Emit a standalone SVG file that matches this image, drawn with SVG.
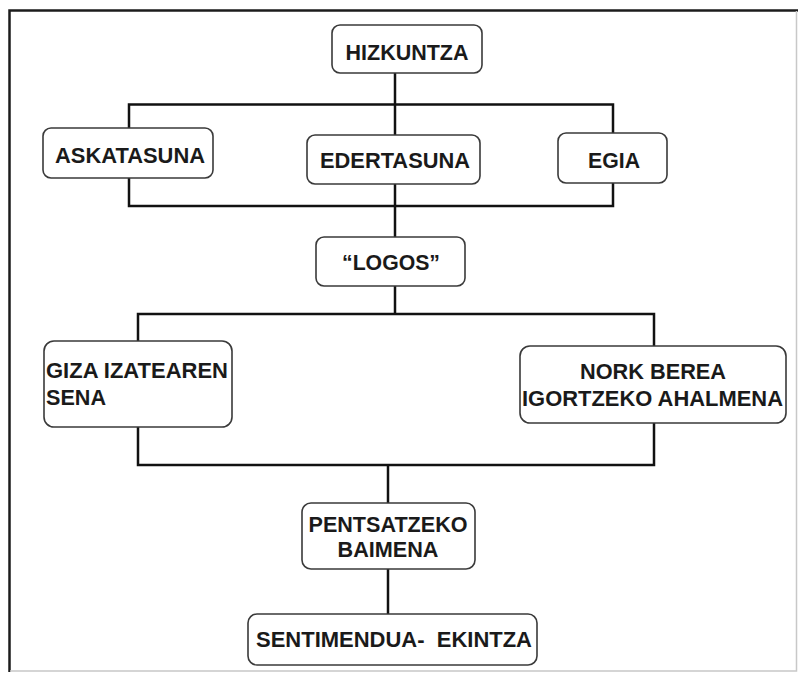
<svg xmlns="http://www.w3.org/2000/svg" width="798" height="673" viewBox="0 0 798 673">
  <style>
    .frame { fill: none; stroke: #1c1c1c; stroke-width: 2.5; }
    .frame-faint { fill: none; stroke: #c8c8c8; stroke-width: 1.5; }
    .wire { fill: none; stroke: #111; stroke-width: 2.5; }
    .box { fill: #fff; stroke: #3a3a3a; stroke-width: 1.6; }
    .lbl { font-family: "Liberation Sans", Arial, sans-serif; font-weight: bold; font-size: 22px; fill: #1a1a1a; }
    .mid { text-anchor: middle; }
  </style>
  <rect width="798" height="673" fill="#fff"/>

  <!-- outer frame -->
  <g id="frame">
    <path class="frame" d="M9.5,672 V10.5 H798"/>
    <path class="frame-faint" d="M796.5,11 V671 H10"/>
  </g>

  <!-- connectors -->
  <g id="connectors">
    <path class="wire" d="M395,73 V237"/>
    <rect class="wire" x="129" y="104.5" width="484" height="101.5"/>
    <path class="wire" d="M395,286 V314"/>
    <rect class="wire" x="138" y="314" width="516" height="151"/>
    <path class="wire" d="M388,465 V503"/>
    <path class="wire" d="M388,569 V614"/>
  </g>

  <g id="hizkuntza">
    <rect class="box" x="332" y="25" width="150" height="48" rx="8"/>
    <text class="lbl mid" x="407" y="60" font-size="24" textLength="123" lengthAdjust="spacingAndGlyphs">HIZKUNTZA</text>
  </g>

  <g id="askatasuna">
    <rect class="box" x="43" y="128" width="170" height="50" rx="8"/>
    <text class="lbl mid" x="130" y="163" textLength="150" lengthAdjust="spacingAndGlyphs">ASKATASUNA</text>
  </g>

  <g id="edertasuna">
    <rect class="box" x="307" y="135" width="173" height="49" rx="8"/>
    <text class="lbl mid" x="395" y="168" textLength="150" lengthAdjust="spacingAndGlyphs">EDERTASUNA</text>
  </g>

  <g id="egia">
    <rect class="box" x="558" y="133" width="109" height="50" rx="8"/>
    <text class="lbl mid" x="614" y="168" textLength="52" lengthAdjust="spacingAndGlyphs">EGIA</text>
  </g>

  <g id="logos">
    <rect class="box" x="316" y="237" width="149" height="49" rx="8"/>
    <text class="lbl mid" x="391" y="270" textLength="98" lengthAdjust="spacingAndGlyphs">“LOGOS”</text>
  </g>

  <g id="giza-izatearen-sena">
    <rect class="box" x="44" y="341" width="188" height="86" rx="10"/>
    <text class="lbl" x="46" y="378" textLength="182" lengthAdjust="spacingAndGlyphs">GIZA IZATEAREN</text>
    <text class="lbl" x="46" y="405" textLength="60" lengthAdjust="spacingAndGlyphs">SENA</text>
  </g>

  <g id="nork-berea">
    <rect class="box" x="520" y="346" width="266" height="77" rx="10"/>
    <text class="lbl mid" x="653" y="379" textLength="146" lengthAdjust="spacingAndGlyphs">NORK BEREA</text>
    <text class="lbl mid" x="652.5" y="406" textLength="261" lengthAdjust="spacingAndGlyphs">IGORTZEKO AHALMENA</text>
  </g>

  <g id="pentsatzeko-baimena">
    <rect class="box" x="302" y="503" width="173" height="66" rx="9"/>
    <text class="lbl mid" x="388" y="532" textLength="159" lengthAdjust="spacingAndGlyphs">PENTSATZEKO</text>
    <text class="lbl mid" x="388" y="557" textLength="101" lengthAdjust="spacingAndGlyphs">BAIMENA</text>
  </g>

  <g id="sentimendua-ekintza">
    <rect class="box" x="248" y="614" width="289" height="51" rx="9"/>
    <text class="lbl" x="256" y="647" xml:space="preserve" textLength="276" lengthAdjust="spacingAndGlyphs">SENTIMENDUA-  EKINTZA</text>
  </g>
</svg>
